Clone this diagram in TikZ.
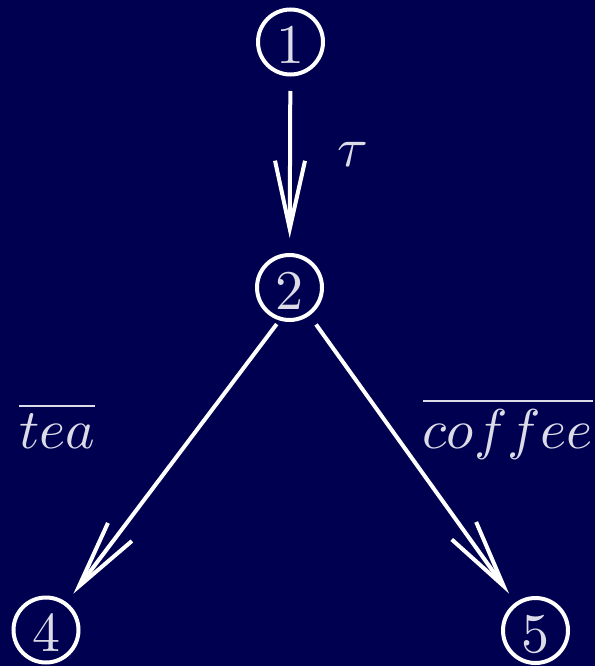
\documentclass[tikz,border=0pt]{standalone}
\usetikzlibrary{arrows.meta}
\definecolor{bg}{RGB}{0,0,80}
\definecolor{txt}{RGB}{220,220,232}
\newcommand{\bigtxt}[1]{\scalebox{5.6}{#1}}
\begin{document}
\begin{tikzpicture}[x=1pt,y=-1pt,
  state/.style={circle,draw=white,line width=4pt,minimum size=65pt,inner sep=0pt,
    text=txt,text height=43pt,text depth=0pt},
  lbl/.style={text=txt,inner sep=0pt,anchor=base},
  arr/.style={draw=white,line width=4pt,-{Straight Barb[length=68pt,width=30pt]}}]
\fill[bg] (0,0) rectangle (595,666);
\useasboundingbox (0,0) rectangle (595,666);
\node[state] (n1) at (290.5,42) {\bigtxt{1}};
\node[state] (n2) at (289.5,287.5) {\bigtxt{2}};
\node[state] (n4) at (46,630) {\bigtxt{4}};
\node[state] (n5) at (535.5,630.5) {\bigtxt{5}};
\draw[arr, shorten <=14.5pt, shorten >=15pt] (n1) -- (n2);
\draw[arr, shorten <=4.5pt, shorten >=11pt] (n2.253) -- (n4);
\draw[arr, shorten <=11pt, shorten >=11pt] (n2) -- (n5);
\node[lbl] (tau) at (353,166) {\bigtxt{$\tau$}};
\node[lbl] (tea) at (57,448) {\bigtxt{$\overline{tea}$}};
\node[lbl] (coffee) at (508,448) {\bigtxt{$\overline{coffee}$}};
\end{tikzpicture}
\end{document}
